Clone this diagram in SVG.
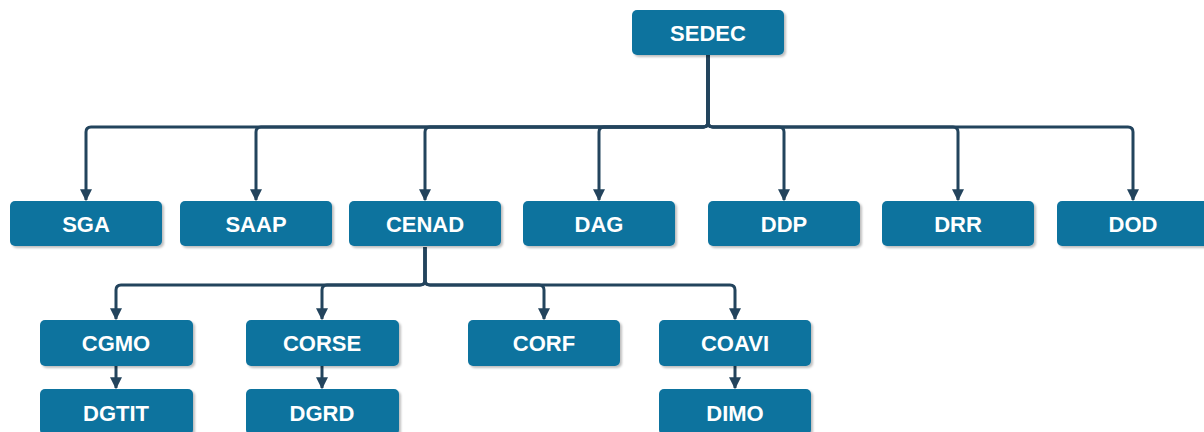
<svg xmlns="http://www.w3.org/2000/svg" width="1204" height="432" viewBox="0 0 1204 432">
<style>
.box{fill:#10739e;filter:url(#sh)}
.lbl{fill:#ffffff;font-family:"Liberation Sans",Arial,sans-serif;font-weight:bold;font-size:22px;text-anchor:middle}
.ln{fill:none;stroke:#23445d;stroke-width:3;marker-end:url(#ar)}
</style>
<defs>
<filter id="sh" x="-10%" y="-20%" width="130%" height="150%">
<feDropShadow dx="2" dy="2" stdDeviation="1.2" flood-color="#000" flood-opacity="0.25"/>
</filter>
<marker id="ar" viewBox="0 0 10 10" refX="9" refY="5" markerWidth="4" markerHeight="4" orient="auto" markerUnits="strokeWidth">
<path d="M0,0 L10,5 L0,10 z" fill="#23445d"/>
</marker>
</defs>
<g id="connectors">
<path class="ln" d="M708 55 V122 Q708 127 703 127 H91 Q86 127 86 132 V200"/>
<path class="ln" d="M708 55 V122 Q708 127 703 127 H261 Q256 127 256 132 V200"/>
<path class="ln" d="M708 55 V122 Q708 127 703 127 H430 Q425 127 425 132 V200"/>
<path class="ln" d="M708 55 V122 Q708 127 703 127 H604 Q599 127 599 132 V200"/>
<path class="ln" d="M708 55 V122 Q708 127 713 127 H779 Q784 127 784 132 V200"/>
<path class="ln" d="M708 55 V122 Q708 127 713 127 H953 Q958 127 958 132 V200"/>
<path class="ln" d="M708 55 V122 Q708 127 713 127 H1128 Q1133 127 1133 132 V200"/>
<path class="ln" d="M425 247 V280 Q425 285 420 285 H121 Q116 285 116 290 V319"/>
<path class="ln" d="M425 247 V280 Q425 285 420 285 H327 Q322 285 322 290 V319"/>
<path class="ln" d="M425 247 V280 Q425 285 430 285 H539 Q544 285 544 290 V319"/>
<path class="ln" d="M425 247 V280 Q425 285 430 285 H730 Q735 285 735 290 V319"/>
<path class="ln" d="M116 366 V388"/>
<path class="ln" d="M322 366 V388"/>
<path class="ln" d="M735 366 V388"/>
</g>
<g id="SEDEC"><rect class="box" x="632" y="10" width="152" height="45" rx="5"/><text class="lbl" x="708" y="41">SEDEC</text></g>
<g id="SGA"><rect class="box" x="10" y="201" width="152" height="45" rx="5"/><text class="lbl" x="86" y="232">SGA</text></g>
<g id="SAAP"><rect class="box" x="180" y="201" width="152" height="45" rx="5"/><text class="lbl" x="256" y="232">SAAP</text></g>
<g id="CENAD"><rect class="box" x="349" y="201" width="152" height="45" rx="5"/><text class="lbl" x="425" y="232">CENAD</text></g>
<g id="DAG"><rect class="box" x="523" y="201" width="152" height="45" rx="5"/><text class="lbl" x="599" y="232">DAG</text></g>
<g id="DDP"><rect class="box" x="708" y="201" width="152" height="45" rx="5"/><text class="lbl" x="784" y="232">DDP</text></g>
<g id="DRR"><rect class="box" x="882" y="201" width="152" height="45" rx="5"/><text class="lbl" x="958" y="232">DRR</text></g>
<g id="DOD"><rect class="box" x="1057" y="201" width="152" height="45" rx="5"/><text class="lbl" x="1133" y="232">DOD</text></g>
<g id="CGMO"><rect class="box" x="40" y="320" width="153" height="46" rx="5"/><text class="lbl" x="116" y="351">CGMO</text></g>
<g id="CORSE"><rect class="box" x="246" y="320" width="153" height="46" rx="5"/><text class="lbl" x="322" y="351">CORSE</text></g>
<g id="CORF"><rect class="box" x="468" y="320" width="152" height="46" rx="5"/><text class="lbl" x="544" y="351">CORF</text></g>
<g id="COAVI"><rect class="box" x="659" y="320" width="152" height="46" rx="5"/><text class="lbl" x="735" y="351">COAVI</text></g>
<g id="DGTIT"><rect class="box" x="40" y="389" width="153" height="46" rx="5"/><text class="lbl" x="116" y="421">DGTIT</text></g>
<g id="DGRD"><rect class="box" x="246" y="389" width="153" height="46" rx="5"/><text class="lbl" x="322" y="421">DGRD</text></g>
<g id="DIMO"><rect class="box" x="659" y="389" width="152" height="46" rx="5"/><text class="lbl" x="735" y="421">DIMO</text></g>
</svg>
